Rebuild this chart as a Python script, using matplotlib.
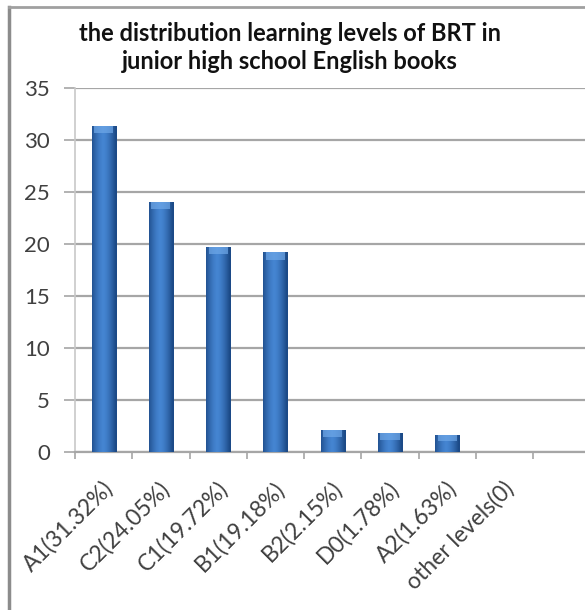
import matplotlib
matplotlib.use("Agg")
import matplotlib.pyplot as plt
import matplotlib.transforms as mtransforms
import numpy as np
from matplotlib.lines import Line2D

categories = ["A1(31.32%)", "C2(24.05%)", "C1(19.72%)", "B1(19.18%)",
              "B2(2.15%)", "D0(1.78%)", "A2(1.63%)", "other levels(0)"]
values = [31.32, 24.05, 19.72, 19.18, 2.15, 1.78, 1.63, 0]
yticks = [0, 5, 10, 15, 20, 25, 30, 35]
title = "the distribution learning levels of BRT in\njunior high school English books"

plt.rcParams['font.family'] = ['Lato', 'DejaVu Sans']
txt = '#404040'

fig = plt.figure(figsize=(5.85, 6.10), dpi=100)
ax = fig.add_axes([0.128, 0.259, 0.872, 0.597])

x = np.arange(len(categories))
bars = ax.bar(x, values, width=0.42, color='#2f68b0', zorder=3)

# horizontal cylinder-like gradient
grad = np.linspace(0, 1, 64)
shade = 1 - (2 * np.abs(grad - 0.45)) ** 1.5
cmap = matplotlib.colors.LinearSegmentedColormap.from_list('b', ['#1c4a87', '#4585d2'])
for b in bars:
    if b.get_height() <= 0:
        continue
    x0, y0 = b.get_x(), b.get_y()
    w, h = b.get_width(), b.get_height()
    im = ax.imshow(shade[np.newaxis, :], extent=(x0, x0 + w, y0, y0 + h),
                   aspect='auto', cmap=cmap, vmin=0, vmax=1, zorder=4)
    im.set_clip_path(b)
    ch = min(0.7, h * 0.35)
    ax.bar(b.get_x() + w / 2, ch, width=w * 0.8, bottom=y0 + h - ch,
           color='#6fa8e8', alpha=0.7, zorder=5)

ax.set_xlim(-0.5, 8.4)
ax.set_ylim(0, 35)
ax.set_yticks(yticks)
ax.yaxis.grid(True, color='#a6a6a6', linewidth=1.6, zorder=0)
ax.set_axisbelow(True)
ax.tick_params(axis='y', length=8, width=1.2, color='#a6a6a6', labelsize=16,
               labelcolor=txt, pad=10)
ax.set_xticks(np.arange(-0.5, len(categories) + 0.5, 1))
ax.set_xticklabels([])
ax.tick_params(axis='x', length=5, width=1.2, color='#a6a6a6')
ax.set_xticks(x, minor=True)
ax.set_xticklabels(categories, minor=True, rotation=45, ha='right', va='center',
                   rotation_mode='anchor', fontsize=16.5, color=txt)
ax.tick_params(axis='x', which='minor', length=0, pad=20)
offset = mtransforms.ScaledTranslation(0.06, -0.05, fig.dpi_scale_trans)
for lab in ax.xaxis.get_minorticklabels():
    lab.set_transform(lab.get_transform() + offset)
for s in ['top', 'right']:
    ax.spines[s].set_visible(False)
ax.spines['left'].set_color('#c8c8c8')
ax.spines['left'].set_linewidth(1.2)
ax.spines['bottom'].set_color('#a6a6a6')
ax.spines['bottom'].set_linewidth(1.6)

fig.text(0.495, 0.922, title, ha='center', va='center', fontsize=17,
         fontweight='bold', color='#111111', linespacing=1.3)

# outer frame (left and top)
fig.add_artist(Line2D([0.015, 0.015], [0, 0.988], transform=fig.transFigure,
                      color='#8c8c8c', linewidth=2.5))
fig.add_artist(Line2D([0.015, 1], [0.988, 0.988], transform=fig.transFigure,
                      color='#a0a0a0', linewidth=2))

fig.savefig('out.png', dpi=100)
